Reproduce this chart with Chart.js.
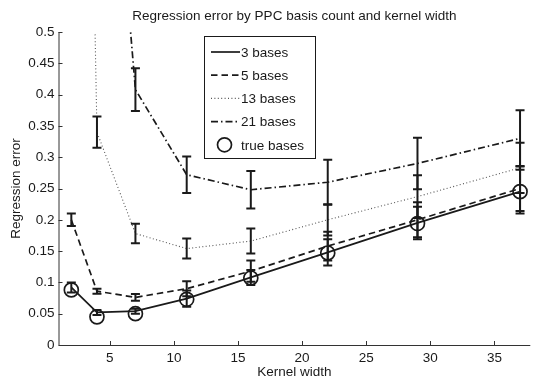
<!DOCTYPE html>
<html>
<head>
<meta charset="utf-8">
<script src="https://cdn.jsdelivr.net/npm/chart.js@4.4.0/dist/chart.umd.min.js"></script>
<style>
    html, body { margin: 0; padding: 0; background: #fff; overflow: hidden; }
    canvas { display: block; }
</style>
</head>
<body>
<canvas id="errorChart" width="539" height="381"></canvas>
<script>
// Veriler
const kernelWidths = [2, 4, 7, 11, 16, 22, 29, 37];
const bases3 = [0.092, 0.052, 0.054, 0.074, 0.108, 0.148, 0.195, 0.245];
const bases3Err = [0.008, 0.004, 0.004, 0.013, 0.012, 0.021, 0.026, 0.035];
const bases5 = [0.2, 0.086, 0.076, 0.09, 0.118, 0.158, 0.2, 0.25];
const bases5Err = [0.01, 0.004, 0.0055, 0.012, 0.017, 0.023, 0.028, 0.036];
const bases13 = [2.5, 0.34, 0.178, 0.154, 0.166, 0.2, 0.237, 0.283];
const bases13Err = [0.1, 0.025, 0.0155, 0.016, 0.02, 0.025, 0.034, 0.04];
const bases21 = [1.6, 1.14, 0.408, 0.272, 0.248, 0.26, 0.29, 0.33];
const bases21Err = [0.1, 0.1, 0.034, 0.029, 0.03, 0.036, 0.041, 0.045];
const trueBases = [0.088, 0.045, 0.05, 0.073, 0.107, 0.147, 0.194, 0.245];

const xTicks = [5, 10, 15, 20, 25, 30, 35];
const yTicks = [0, 0.05, 0.1, 0.15, 0.2, 0.25, 0.3, 0.35, 0.4, 0.45, 0.5];
const yTickLabels = ['0', '0.05', '0.1', '0.15', '0.2', '0.25', '0.3', '0.35', '0.4', '0.45', '0.5'];

const FONT = '"Liberation Sans", Arial, Helvetica, sans-serif';
const INK = '#1a1a1a';

function points(values) {
    return kernelWidths.map((x, i) => ({ x: x, y: values[i] }));
}

// Hata çubukları, içe dönük tikler, başlıklar ve lejant
const decorPlugin = {
    id: 'decor',
    afterDatasetsDraw(chart) {
        const ctx = chart.ctx;
        const area = chart.chartArea;
        const xs = chart.scales.x;
        const ys = chart.scales.y;

        ctx.save();
        ctx.beginPath();
        ctx.rect(area.left, area.top - 1, area.right - area.left, area.bottom - area.top + 2);
        ctx.clip();
        ctx.strokeStyle = INK;
        ctx.lineWidth = 2;
        ctx.setLineDash([]);
        chart.data.datasets.forEach(ds => {
            if (!ds.errors) return;
            ds.data.forEach((p, i) => {
                const px = xs.getPixelForValue(p.x);
                const lo = ys.getPixelForValue(p.y - ds.errors[i]);
                const hi = ys.getPixelForValue(p.y + ds.errors[i]);
                ctx.beginPath();
                ctx.moveTo(px, lo);
                ctx.lineTo(px, hi);
                ctx.moveTo(px - 4.5, lo);
                ctx.lineTo(px + 4.5, lo);
                ctx.moveTo(px - 4.5, hi);
                ctx.lineTo(px + 4.5, hi);
                ctx.stroke();
            });
        });
        ctx.restore();
    },
    afterDraw(chart) {
        const ctx = chart.ctx;
        const area = chart.chartArea;
        const xs = chart.scales.x;
        const ys = chart.scales.y;

        ctx.save();
        // eksen çizgileri ve tikler
        ctx.strokeStyle = '#333';
        ctx.lineWidth = 1;
        ctx.beginPath();
        ctx.moveTo(area.left + 0.5, area.top);
        ctx.lineTo(area.left + 0.5, area.bottom + 0.5);
        ctx.lineTo(area.right, area.bottom + 0.5);
        xTicks.forEach(t => {
            const px = Math.round(xs.getPixelForValue(t)) + 0.5;
            ctx.moveTo(px, area.bottom);
            ctx.lineTo(px, area.bottom - 4);
        });
        yTicks.forEach(t => {
            const py = Math.round(ys.getPixelForValue(t)) + 0.5;
            ctx.moveTo(area.left, py);
            ctx.lineTo(area.left + 4, py);
        });
        ctx.stroke();

        // başlıklar
        const midX = (area.left + area.right) / 2;
        ctx.fillStyle = INK;
        ctx.font = '13.5px ' + FONT;
        ctx.textAlign = 'center';
        ctx.textBaseline = 'middle';
        ctx.fillText('Regression error by PPC basis count and kernel width', midX, 16);
        ctx.fillText('Kernel width', midX, 372);
        ctx.translate(16, (area.top + area.bottom) / 2);
        ctx.rotate(-Math.PI / 2);
        ctx.fillText('Regression error', 0, 0);
        ctx.restore();

        // lejant
        ctx.save();
        ctx.fillStyle = '#fff';
        ctx.fillRect(204.5, 36.5, 111, 122);
        ctx.strokeStyle = INK;
        ctx.lineWidth = 1;
        ctx.strokeRect(204.5, 36.5, 111, 122);
        ctx.font = '13.5px ' + FONT;
        ctx.textAlign = 'left';
        ctx.textBaseline = 'middle';
        chart.data.datasets.forEach((ds, i) => {
            const y = 52 + i * 23.2;
            ctx.strokeStyle = ds.borderColor;
            ctx.setLineDash(ds.borderDash || []);
            ctx.lineWidth = ds.borderWidth;
            ctx.beginPath();
            if (ds.showLine === false) {
                ctx.setLineDash([]);
                ctx.arc(224.5, y, ds.pointRadius, 0, Math.PI * 2);
            } else {
                ctx.moveTo(211, y);
                ctx.lineTo(240, y);
            }
            ctx.stroke();
            ctx.fillStyle = INK;
            ctx.fillText(ds.label, 241, y + 1);
        });
        ctx.restore();
    }
};

const ctx = document.getElementById('errorChart').getContext('2d');

new Chart(ctx, {
    type: 'line',
    data: {
        datasets: [
            {
                label: '3 bases',
                data: points(bases3),
                errors: bases3Err,
                borderColor: INK,
                borderWidth: 1.7,
                pointRadius: 0,
                order: 2
            },
            {
                label: '5 bases',
                data: points(bases5),
                errors: bases5Err,
                borderColor: INK,
                borderWidth: 1.7,
                borderDash: [6.5, 4],
                pointRadius: 0,
                order: 3
            },
            {
                label: '13 bases',
                data: points(bases13),
                errors: bases13Err,
                borderColor: '#555',
                borderWidth: 1.1,
                borderDash: [1, 2.4],
                pointRadius: 0,
                order: 4
            },
            {
                label: '21 bases',
                data: points(bases21),
                errors: bases21Err,
                borderColor: INK,
                borderWidth: 1.7,
                borderDash: [7, 3, 1.5, 3],
                pointRadius: 0,
                order: 5
            },
            {
                label: 'true bases',
                data: points(trueBases),
                showLine: false,
                borderColor: INK,
                backgroundColor: 'rgba(0,0,0,0)',
                borderWidth: 1.7,
                pointRadius: 7,
                pointStyle: 'circle',
                order: 1
            }
        ]
    },
    options: {
        responsive: false,
        animation: false,
        layout: { padding: { left: 0, top: 32, right: 0, bottom: 0 } },
        plugins: {
            legend: { display: false },
            tooltip: { enabled: false }
        },
        elements: { line: { tension: 0 } },
        scales: {
            x: {
                type: 'linear',
                min: 1,
                max: 37.8,
                grid: { display: false, drawTicks: false },
                border: { display: false },
                afterBuildTicks: scale => { scale.ticks = xTicks.map(v => ({ value: v })); },
                afterFit: scale => { scale.height = 36; },
                ticks: {
                    padding: 5,
                    color: INK,
                    font: { family: FONT, size: 13.5 },
                    maxRotation: 0
                }
            },
            y: {
                type: 'linear',
                min: 0,
                max: 0.5,
                grid: { display: false, drawTicks: false },
                border: { display: false },
                afterBuildTicks: scale => { scale.ticks = yTicks.map(v => ({ value: v })); },
                afterFit: scale => { scale.width = 58.5; },
                ticks: {
                    padding: 4,
                    color: INK,
                    font: { family: FONT, size: 13.5 },
                    callback: (value, index) => yTickLabels[index]
                }
            }
        }
    },
    plugins: [decorPlugin]
});
</script>
</body>
</html>
